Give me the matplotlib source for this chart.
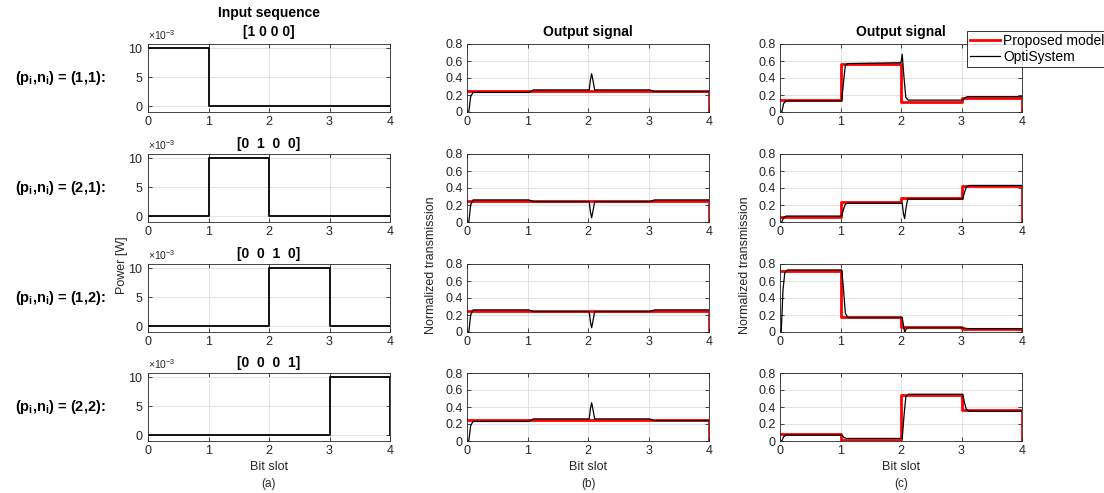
import numpy as np
import matplotlib
matplotlib.use('Agg')
import matplotlib.pyplot as plt
from matplotlib.ticker import ScalarFormatter

plt.rcParams['font.family'] = ['Liberation Sans', 'DejaVu Sans']
plt.rcParams['mathtext.fontset'] = 'custom'
plt.rcParams['mathtext.rm'] = 'Liberation Sans'
plt.rcParams['mathtext.bf'] = 'Liberation Sans:bold'
plt.rcParams['mathtext.it'] = 'Liberation Sans:italic'

# ---- data ----
bit_edges = [0, 1, 2, 3, 4, 4]
sequences = [[1, 0, 0, 0], [0, 1, 0, 0], [0, 0, 1, 0], [0, 0, 0, 1]]
seq_titles = ['Input sequence\n[1 0 0 0]', '[0  1  0  0]', '[0  0  1  0]', '[0  0  0  1]']
row_labels = ['(1,1):', '(2,1):', '(1,2):', '(2,2):']
peak_power = 10e-3

# proposed model levels per bit
model_b = [[0.25, 0.25, 0.25, 0.25],
           [0.25, 0.25, 0.25, 0.25],
           [0.25, 0.25, 0.25, 0.25],
           [0.25, 0.25, 0.25, 0.25]]
model_c = [[0.14, 0.56, 0.12, 0.17],
           [0.06, 0.24, 0.28, 0.42],
           [0.72, 0.18, 0.06, 0.03],
           [0.08, 0.01, 0.54, 0.36]]

# OptiSystem traces
opti_b_x = [0, 0.03, 0.06, 0.1, 1.02, 1.1, 2.02, 2.04, 2.06, 2.08, 2.11, 3.02, 3.1, 4.0]
opti_b_y = [[0, 0, 0.18, 0.23, 0.23, 0.26, 0.26, 0.38, 0.45, 0.38, 0.26, 0.26, 0.24, 0.24],
            [0, 0, 0.2, 0.26, 0.26, 0.24, 0.24, 0.12, 0.05, 0.12, 0.24, 0.24, 0.26, 0.26],
            [0, 0, 0.2, 0.26, 0.26, 0.24, 0.24, 0.12, 0.05, 0.12, 0.24, 0.24, 0.26, 0.26],
            [0, 0, 0.18, 0.23, 0.23, 0.26, 0.26, 0.38, 0.45, 0.38, 0.26, 0.26, 0.24, 0.24]]

opti_c1_x = [0, 0.03, 0.06, 0.1, 1.02, 1.05, 1.08, 1.12, 2.0, 2.02, 2.05, 2.08, 2.12, 3.02, 3.06, 3.1, 4.0]
opti_c1_y = [0, 0, 0.1, 0.13, 0.13, 0.35, 0.55, 0.57, 0.58, 0.68, 0.4, 0.17, 0.14, 0.14, 0.17, 0.18, 0.18]
opti_c2_x = [0, 0.03, 0.06, 0.1, 1.02, 1.05, 1.08, 1.12, 2.02, 2.04, 2.06, 2.08, 2.11, 3.02, 3.05, 3.08, 3.12, 4.0]
opti_c2_y = [0, 0, 0.05, 0.07, 0.07, 0.15, 0.21, 0.22, 0.22, 0.1, 0.04, 0.15, 0.27, 0.27, 0.35, 0.41, 0.43, 0.43]
opti_c3_x = [0, 0.02, 0.05, 0.08, 0.12, 1.02, 1.05, 1.08, 1.12, 2.02, 2.04, 2.06, 2.1, 3.02, 3.1, 4.0]
opti_c3_y = [0, 0, 0.5, 0.7, 0.73, 0.73, 0.5, 0.22, 0.17, 0.17, 0.08, 0.0, 0.05, 0.05, 0.04, 0.04]
opti_c4_x = [0, 0.03, 0.06, 0.1, 1.02, 1.06, 1.1, 2.02, 2.05, 2.08, 2.12, 3.02, 3.05, 3.08, 3.12, 4.0]
opti_c4_y = [0, 0, 0.05, 0.07, 0.07, 0.04, 0.03, 0.03, 0.3, 0.52, 0.55, 0.55, 0.45, 0.37, 0.35, 0.35]
opti_c_x = [opti_c1_x, opti_c2_x, opti_c3_x, opti_c4_x]
opti_c_y = [opti_c1_y, opti_c2_y, opti_c3_y, opti_c4_y]


def steps(levels):
    return list(levels) + [0, 0]


def style(ax):
    ax.set_xlim(0, 4)
    ax.set_xticks([0, 1, 2, 3, 4])
    ax.grid(True, color='#dedede', lw=0.6)
    ax.set_axisbelow(True)
    ax.tick_params(direction='in', top=True, right=True, length=3, width=0.6,
                   labelsize=9, colors='#262626', pad=3)
    for s in ax.spines.values():
        s.set_color('#262626')
        s.set_linewidth(0.6)


fig = plt.figure(figsize=(11.04, 4.93), dpi=100)
W = 1104.0
H = 493.0
lefts = [148, 467, 780]
tops = [44, 154, 264, 373]
aw, ah = 242, 68

axes_c = []
for r in range(4):
    bottom = 1 - (tops[r] + ah) / H
    # input sequence
    ax = fig.add_axes([lefts[0] / W, bottom, aw / W, ah / H])
    power = [b * peak_power for b in sequences[r]]
    ax.plot(bit_edges, steps(power), drawstyle='steps-post', color='k', lw=1.3)
    style(ax)
    ax.set_ylim(-0.001, 0.0107)
    ax.set_yticks([0, 0.005, 0.01])
    fmt = ScalarFormatter(useMathText=True)
    fmt.set_powerlimits((-3, -3))
    ax.yaxis.set_major_formatter(fmt)
    ax.yaxis.get_offset_text().set_fontsize(7.5)
    ax.yaxis.get_offset_text().set_color('#262626')
    ax.set_title(seq_titles[r], fontsize=10, fontweight='bold',
                 pad=6 if r == 0 else 4, linespacing=1.45)
    fig.text(60 / W, 1 - (tops[r] + ah / 2) / H,
             r'$\mathbf{(p_i{,}n_i)}$ = ' + row_labels[r], fontsize=10.5,
             fontweight='bold', ha='center', va='center')

    # output columns
    for c, (levels, ox, oy) in enumerate([(model_b[r], opti_b_x, opti_b_y[r]),
                                          (model_c[r], opti_c_x[r], opti_c_y[r])]):
        ax = fig.add_axes([lefts[c + 1] / W, bottom, aw / W, ah / H])
        ax.plot(bit_edges, steps(levels), drawstyle='steps-post', color='#ff0000',
                lw=2.0, label='Proposed model')
        ax.plot(ox, oy, color='k', lw=0.9, label='OptiSystem')
        style(ax)
        ax.set_ylim(0, 0.8)
        ax.set_yticks([0, 0.2, 0.4, 0.6, 0.8])
        ax.set_yticklabels(['0', '0.2', '0.4', '0.6', '0.8'])
        if r == 0:
            ax.set_title('Output signal', fontsize=10, fontweight='bold', pad=6)
        if c == 1:
            axes_c.append(ax)

# axis labels
fig.text(122 / W, 1 - 265 / H, 'Power [W]', rotation=90, ha='center', va='center', fontsize=9, color='#262626')
fig.text(431 / W, 1 - 265 / H, 'Normalized transmission', rotation=90, ha='center', va='center', fontsize=9, color='#262626')
fig.text(745 / W, 1 - 265 / H, 'Normalized transmission', rotation=90, ha='center', va='center', fontsize=9, color='#262626')
for x0, tag in zip(lefts, ['(a)', '(b)', '(c)']):
    fig.text((x0 + aw / 2) / W, 1 - 467 / H, 'Bit slot', ha='center', va='center', fontsize=9, color='#262626')
    fig.text((x0 + aw / 2) / W, 1 - 484 / H, tag, ha='center', va='center', fontsize=8.5, color='#262626')

h, l = axes_c[0].get_legend_handles_labels()
leg = fig.legend(h, l, loc='upper left', bbox_to_anchor=(967 / W, 1 - 31 / H),
                 fontsize=10, frameon=True, fancybox=False, borderpad=0.2,
                 handlelength=2.2, handletextpad=0.2, labelspacing=0.15, borderaxespad=0)
leg.get_frame().set_edgecolor('k')
leg.get_frame().set_linewidth(0.7)

fig.savefig('out.png', dpi=100)
